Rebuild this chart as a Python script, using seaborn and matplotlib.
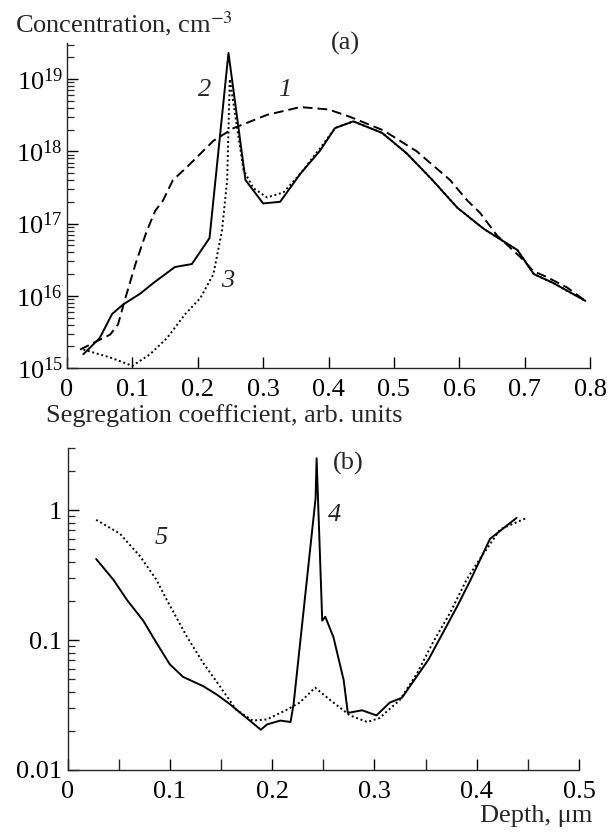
import numpy as np
import pandas as pd
import matplotlib
matplotlib.use("Agg")
import matplotlib.pyplot as plt
import seaborn as sns
from matplotlib.ticker import (LogLocator, LogFormatterMathtext, MultipleLocator,
                               NullFormatter, FuncFormatter)

# ---------------- data: panel (a) ----------------
a1_x = [0.02, 0.066, 0.078, 0.089, 0.105, 0.122, 0.135, 0.147, 0.162, 0.183, 0.224,
        0.255, 0.306, 0.357, 0.40, 0.433, 0.484, 0.535, 0.586, 0.612, 0.632, 0.658,
        0.694, 0.713, 0.735, 0.765, 0.793]
a1_y = [1.8e15, 2.9e15, 4.0e15, 9.1e15, 2.8e16, 7.9e16, 1.5e17, 2.1e17, 4.0e17, 6.0e17,
        1.4e18, 2.1e18, 3.2e18, 4.1e18, 3.8e18, 3.0e18, 1.95e18, 1.0e18, 4.0e17, 2.1e17,
        1.4e17, 6.8e16, 3.4e16, 2.2e16, 1.8e16, 1.3e16, 8.5e15]

a2_x = [0.025, 0.05, 0.069, 0.086, 0.112, 0.132, 0.165, 0.191, 0.218, 0.247, 0.273,
        0.30, 0.326, 0.357, 0.387, 0.41, 0.438, 0.482, 0.52, 0.559, 0.597, 0.637,
        0.666, 0.689, 0.714, 0.744, 0.793]
a2_y = [1.55e15, 2.6e15, 5.6e15, 7.6e15, 1.07e16, 1.5e16, 2.5e16, 2.75e16, 6.3e16,
        2.3e19, 4.0e17, 1.9e17, 2.0e17, 4.9e17, 1.02e18, 2.1e18, 2.6e18, 1.8e18,
        9.3e17, 4.0e17, 1.66e17, 8.5e16, 5.8e16, 4.3e16, 2.0e16, 1.5e16, 8.5e15]

a3_x = [0.025, 0.066, 0.10, 0.127, 0.153, 0.181, 0.204, 0.224, 0.237, 0.245, 0.249,
        0.27, 0.285, 0.306, 0.331, 0.357, 0.387, 0.41, 0.438, 0.482, 0.52, 0.559,
        0.597, 0.637, 0.666, 0.689, 0.714, 0.744, 0.793]
a3_y = [1.8e15, 1.4e15, 1.07e15, 1.55e15, 2.6e15, 5.6e15, 9.3e15, 2.0e16, 7.9e16,
        4.0e17, 1.0e19, 5.5e17, 3.1e17, 2.3e17, 2.7e17, 4.9e17, 1.1e18, 2.1e18,
        2.6e18, 1.8e18, 9.3e17, 4.0e17, 1.66e17, 8.5e16, 5.8e16, 4.3e16, 2.0e16,
        1.5e16, 8.5e15]

a_xticks = [0, 0.1, 0.2, 0.3, 0.4, 0.5, 0.6, 0.7, 0.8]

# ---------------- data: panel (b) ----------------
b4_x = [0.028, 0.045, 0.058, 0.074, 0.087, 0.10, 0.113, 0.133, 0.146, 0.159, 0.169,
        0.189, 0.195, 0.208, 0.218, 0.221, 0.2425, 0.2435, 0.249, 0.252, 0.26, 0.27,
        0.274, 0.288, 0.302, 0.315, 0.327, 0.353, 0.381, 0.394, 0.413, 0.439]
b4_y = [0.42, 0.29, 0.204, 0.141, 0.095, 0.065, 0.052, 0.044, 0.038, 0.032, 0.0275,
        0.0204, 0.0224, 0.024, 0.0234, 0.032, 1.23, 2.5, 0.141, 0.151, 0.105, 0.049,
        0.0275, 0.0288, 0.0263, 0.033, 0.036, 0.071, 0.182, 0.29, 0.60, 0.87]

b5_x = [0.028, 0.051, 0.071, 0.087, 0.097, 0.117, 0.133, 0.149, 0.165, 0.181, 0.195,
        0.214, 0.227, 0.242, 0.26, 0.276, 0.293, 0.305, 0.325, 0.342, 0.357, 0.374,
        0.39, 0.403, 0.423, 0.449]
b5_y = [0.84, 0.66, 0.44, 0.29, 0.204, 0.105, 0.066, 0.044, 0.029, 0.024, 0.0245,
        0.029, 0.033, 0.043, 0.033, 0.0263, 0.0234, 0.0251, 0.0347, 0.056, 0.095,
        0.162, 0.29, 0.42, 0.71, 0.87]

b_xticks = [0, 0.1, 0.2, 0.3, 0.4, 0.5]
b_yticks = [0.01, 0.1, 1]

# ---------------- style ----------------
sns.set_style("ticks")
plt.rcParams['font.family'] = ['Liberation Serif', 'DejaVu Serif']
plt.rcParams['mathtext.fontset'] = 'stix'
plt.rcParams['axes.linewidth'] = 1.0

FS = 19
LFS = 19
LW = 1.4

fig = plt.figure(figsize=(6.14, 8.32), dpi=100)
axa = fig.add_axes([67 / 614, 1 - 368 / 832, (590 - 67) / 614, (368 - 43) / 832])
axb = fig.add_axes([67.5 / 614, 1 - 770 / 832, (579 - 67.5) / 614, (770 - 448) / 832])

def draw(ax, xs, ys, ls):
    df = pd.DataFrame({"x": xs, "y": ys})
    sns.lineplot(data=df, x="x", y="y", ax=ax, color="black", linewidth=LW,
                 linestyle=ls, sort=False, estimator=None)

draw(axa, a1_x, a1_y, (0, (5, 2.6)))
draw(axa, a3_x, a3_y, (0, (1, 1.4)))
draw(axa, a2_x, a2_y, "-")

draw(axb, b5_x, b5_y, (0, (1, 1.4)))
draw(axb, b4_x, b4_y, "-")

for ax in (axa, axb):
    ax.set_yscale("log")
    sns.despine(ax=ax)
    ax.set_xlabel("")
    ax.set_ylabel("")
    ax.tick_params(which="major", direction="in", length=8, width=1,
                   labelsize=FS, pad=4, colors="black")
    ax.tick_params(which="minor", direction="in", length=5, width=0.9)
    ax.tick_params(axis="x", which="both", pad=8)

# panel a axes
axa.set_xlim(0, 0.8)
axa.set_ylim(1e15, 10 ** 19.5)
axa.set_xticks(a_xticks)
axa.xaxis.set_major_formatter(FuncFormatter(lambda v, p: f"{v:g}"))
axa.yaxis.set_major_locator(LogLocator(base=10, numticks=10))
axa.yaxis.set_major_formatter(LogFormatterMathtext())
axa.yaxis.set_minor_locator(LogLocator(base=10, subs=np.arange(2, 10), numticks=20))
axa.yaxis.set_minor_formatter(NullFormatter())
axa.tick_params(axis="y", which="major", pad=3)

# panel b axes
axb.set_xlim(0, 0.5)
axb.set_ylim(0.01, 3)
axb.set_xticks(b_xticks)
axb.xaxis.set_minor_locator(MultipleLocator(0.05))
axb.tick_params(axis="x", which="minor", length=8, width=1)
axb.xaxis.set_major_formatter(FuncFormatter(lambda v, p: f"{v:g}"))
axb.set_yticks(b_yticks)
axb.yaxis.set_major_formatter(FuncFormatter(lambda v, p: f"{v:g}"))
axb.yaxis.set_minor_locator(LogLocator(base=10, subs=np.arange(2, 10), numticks=20))
axb.yaxis.set_minor_formatter(NullFormatter())

# texts
fig.text(15 / 614, 1 - 24 / 832, r"Concentration, cm$^{-3}$", fontsize=LFS,
         ha="left", va="center")
fig.text(345 / 614, 1 - 43 / 832, "(a)", fontsize=FS, ha="center", va="center")
fig.text(46 / 614, 1 - 416 / 832, "Segregation coefficient, arb. units",
         fontsize=LFS, ha="left", va="center")
fig.text(348 / 614, 1 - 463 / 832, "(b)", fontsize=FS, ha="center", va="center")
fig.text(592 / 614, 1 - 816 / 832, "Depth, μm", fontsize=LFS, ha="right",
         va="center")

for ax, (tx, ty, s) in [(axa, (0.211, 7.0e18, "2")), (axa, (0.333, 7.0e18, "1")),
                        (axa, (0.246, 1.6e16, "3")), (axb, (0.261, 0.91, "4")),
                        (axb, (0.092, 0.61, "5"))]:
    ax.text(tx, ty, s, fontsize=FS, style="italic", ha="center", va="center")

fig.savefig("out.png", dpi=100)
